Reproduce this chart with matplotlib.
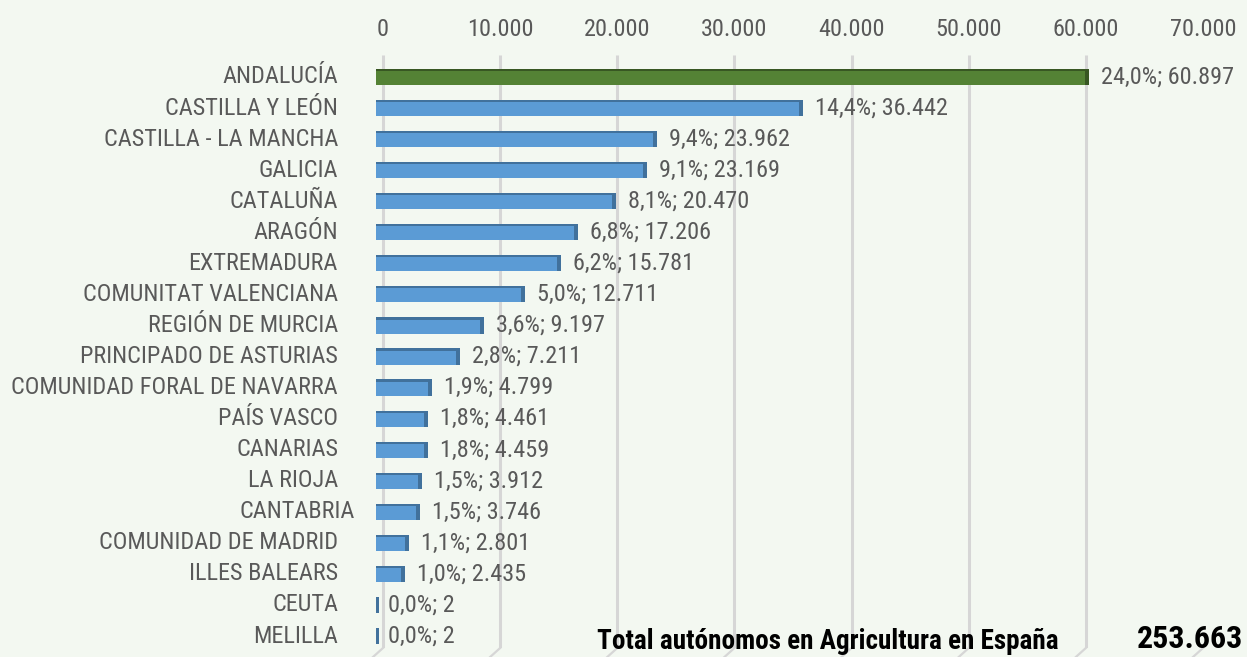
import matplotlib
matplotlib.use("Agg")
import matplotlib.pyplot as plt
from matplotlib.transforms import ScaledTranslation, blended_transform_factory
from matplotlib import font_manager
from matplotlib.font_manager import FontProperties

regions = ["ANDALUCÍA", "CASTILLA Y LEÓN", "CASTILLA - LA MANCHA", "GALICIA", "CATALUÑA",
           "ARAGÓN", "EXTREMADURA", "COMUNITAT VALENCIANA", "REGIÓN DE MURCIA",
           "PRINCIPADO DE ASTURIAS", "COMUNIDAD FORAL DE NAVARRA", "PAÍS VASCO", "CANARIAS",
           "LA RIOJA", "CANTABRIA", "COMUNIDAD DE MADRID", "ILLES BALEARS", "CEUTA", "MELILLA"]
values = [60897, 36442, 23962, 23169, 20470, 17206, 15781, 12711, 9197, 7211, 4799, 4461,
          4459, 3912, 3746, 2801, 2435, 2, 2]
pct_labels = ["24,0%", "14,4%", "9,4%", "9,1%", "8,1%", "6,8%", "6,2%", "5,0%", "3,6%", "2,8%",
              "1,9%", "1,8%", "1,8%", "1,5%", "1,5%", "1,1%", "1,0%", "0,0%", "0,0%"]
xticks = [0, 10000, 20000, 30000, 40000, 50000, 60000, 70000]
xtick_labels = ["0", "10.000", "20.000", "30.000", "40.000", "50.000", "60.000", "70.000"]
total_label = "Total autónomos en Agricultura en España"
total_value = "253.663"


# ---- font selection: prefer a narrow / condensed face ----
def _w(f):
    w = f.weight
    if isinstance(w, str):
        return 700 if "bold" in w.lower() else 400
    return int(w)


def _is_cond(f):
    s = str(f.stretch).lower()
    nm = f.name.lower()
    return ("narrow" in nm or "condensed" in nm or "condensed" in s
            or (isinstance(f.stretch, (int, float)) and f.stretch < 500))


entries = [f for f in font_manager.fontManager.ttflist if f.style == "normal"]
pref = ["liberation sans narrow", "arial narrow", "roboto condensed", "open sans condensed",
        "noto sans condensed", "dejavu sans condensed", "dejavu sans"]
reg_fp, bold_fp = None, None
for p in pref:
    cands = [f for f in entries if f.name.lower().startswith(p.split(" condensed")[0].split(" narrow")[0])
             and _is_cond(f) and (p.split()[0] in f.name.lower())]
    if p.startswith("liberation") or p.startswith("arial"):
        cands = [f for f in entries if f.name.lower() == p]
    if not cands:
        continue
    regs = [f for f in cands if _w(f) == 400] or [f for f in cands if _w(f) < 600]
    bolds = [f for f in cands if _w(f) >= 700]
    if regs:
        reg_fp = FontProperties(fname=regs[0].fname)
        bold_fp = FontProperties(fname=bolds[0].fname) if bolds else FontProperties(fname=regs[0].fname, weight="bold")
        break
if reg_fp is None:
    reg_fp = FontProperties(family=["Liberation Sans", "DejaVu Sans"])
    bold_fp = FontProperties(family=["Liberation Sans", "DejaVu Sans"], weight="bold")

BG = "#F3F8F1"
TXT = "#595959"
W, H = 1247, 657
fig = plt.figure(figsize=(W / 100, H / 100), dpi=100, facecolor=BG)
renderer = fig.canvas.get_renderer()


def fit_size(s, fp, target, maxsize):
    t = fig.text(0, 0, s, fontproperties=fp, fontsize=10)
    wpx = t.get_window_extent(renderer).width
    t.remove()
    return min(maxsize, 10 * target / wpx)


fs = fit_size("COMUNIDAD FORAL DE NAVARRA", reg_fp, 328, 17.5)
fs_tot = fit_size(total_label, bold_fp, 488, 19.5)
fs_val = fit_size(total_value, bold_fp, 107, 24)

ax = fig.add_axes([376 / W, 9 / H, 820 / W, 593 / H])
ax.set_facecolor(BG)
for s in ax.spines.values():
    s.set_visible(False)

YB, YT = 18.386, -0.708
ax.set_xlim(0, 70000)
ax.set_ylim(YB, YT)
PX = 70000 / 820  # data units per pixel

# gridlines (back wall, offset by the 3D depth)
gshift = ax.transData + ScaledTranslation(7 / 100, 0, fig.dpi_scale_trans)
for xv in xticks:
    ax.plot([xv, xv], [YB, YT], color="#D6D6D6", lw=2.2, zorder=0.5,
            solid_capstyle="butt", transform=gshift)
for xv in xticks:
    x0, y0 = ax.transData.transform((xv, YB))
    x0 += 7
    fig.add_artist(plt.Line2D([x0 / W, (x0 - 10) / W], [y0 / H, (y0 - 9) / H],
                              color="#D6D6D6", lw=1.6, transform=fig.transFigure))

lab = ax.transData + ScaledTranslation(12 / 100, 0, fig.dpi_scale_trans)
bh = 0.52
for i, (v, p) in enumerate(zip(values, pct_labels)):
    face = "#548235" if i == 0 else "#5B9BD5"
    dark = "#385723" if i == 0 else "#41719C"
    ax.barh(i, v, height=bh, color=face, edgecolor="none", zorder=2)
    ax.barh(i - bh / 2 + 0.035, v, height=0.07, color=dark, edgecolor="none", zorder=3)
    capw = 4 * PX
    left = max(0, v - capw)
    ax.barh(i, max(v, 3 * PX) - left if v < capw else capw, left=left, height=bh,
            color=dark, edgecolor="none", zorder=3)
    ax.text(v, i, f"{p}; " + f"{v:,}".replace(",", "."), fontproperties=reg_fp,
            transform=lab, ha="left", va="center", fontsize=fs, color=TXT, zorder=4)

# category labels
blend = blended_transform_factory(ax.transAxes, ax.transData)
for i, r in enumerate(regions):
    dx = -21 if r == "CANTABRIA" else -38
    t = blend + ScaledTranslation(dx / 100, 0, fig.dpi_scale_trans)
    ax.text(0, i, r, transform=t, ha="right", va="center", fontsize=fs, color=TXT,
            fontproperties=reg_fp)

ax.set_yticks([])
ax.xaxis.tick_top()
ax.set_xticks(xticks)
ax.set_xticklabels(xtick_labels, fontproperties=reg_fp, fontsize=fs, color=TXT)
ax.tick_params(axis="x", length=0, pad=10)
for tl in ax.get_xticklabels():
    tl.set_transform(tl.get_transform() + ScaledTranslation(7 / 100, 0, fig.dpi_scale_trans))

fig.text(597 / W, 2 / H, total_label, ha="left", va="bottom", fontproperties=bold_fp,
         fontsize=fs_tot, color="#000000")
fig.text(1243 / W, 9 / H, total_value, ha="right", va="baseline", fontproperties=bold_fp,
         fontsize=fs_val, color="#000000")

fig.savefig("out.png", dpi=100, facecolor=BG)
